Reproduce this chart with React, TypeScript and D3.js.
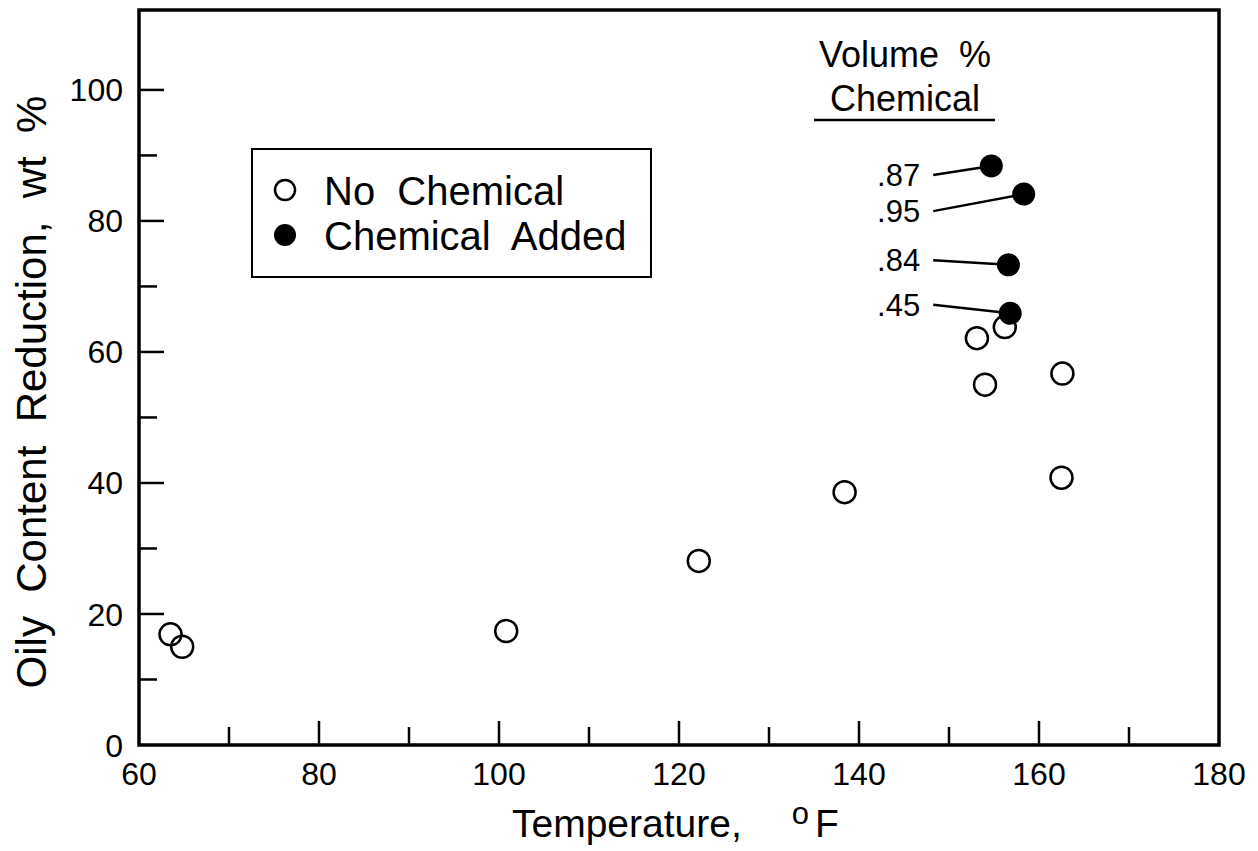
import React from 'react';
import * as d3 from 'd3';

// open circles
const noChemTemp = [63.5, 64.8, 100.8, 122.2, 138.4, 153.1, 156.2, 154.0, 162.6, 162.5];
const noChemOil = [16.9, 15.0, 17.4, 28.1, 38.6, 62.1, 63.8, 55.0, 56.7, 40.8];

// filled circles + their volume % labels
const chemTemp = [154.7, 158.3, 156.6, 156.8];
const chemOil = [88.4, 84.1, 73.3, 65.9];
const chemVolume = ['.87', '.95', '.84', '.45'];
const labelOil = [87.0, 81.5, 74.0, 67.2];
const labelTemp = 146.8;

const xMajor = [60, 80, 100, 120, 140, 160, 180];
const xMinor = [70, 90, 110, 130, 150, 170];
const yMajor = [0, 20, 40, 60, 80, 100];
const yMinor = [10, 30, 50, 70, 90];

const font = '"Liberation Sans", Arial, Helvetica, sans-serif';

const App = () => {
  const width = 1258;
  const height = 851;
  const left = 139, right = 1219, top = 10, bottom = 745;

  const x = d3.scaleLinear().domain([60, 180]).range([left, right]);
  const y = d3.scaleLinear().domain([0, 112.2]).range([bottom, top]);

  return (
    <svg width={width} height={height} style={{ position: 'absolute', left: 0, top: 0, background: '#fff' }}
      fontFamily={font}>
      <rect x={0} y={0} width={width} height={height} fill="#fff" />

      {/* ticks */}
      {xMajor.slice(1, -1).map(t => (
        <line key={'xM' + t} x1={x(t)} x2={x(t)} y1={bottom} y2={bottom - 24} stroke="#000" strokeWidth={2.5} />
      ))}
      {xMinor.map(t => (
        <line key={'xm' + t} x1={x(t)} x2={x(t)} y1={bottom} y2={bottom - 18} stroke="#000" strokeWidth={2.5} />
      ))}
      {yMajor.slice(1).map(t => (
        <line key={'yM' + t} x1={left} x2={left + 25} y1={y(t)} y2={y(t)} stroke="#000" strokeWidth={2.5} />
      ))}
      {yMinor.map(t => (
        <line key={'ym' + t} x1={left} x2={left + 18} y1={y(t)} y2={y(t)} stroke="#000" strokeWidth={2.5} />
      ))}

      {/* frame */}
      <rect x={left} y={top} width={right - left} height={bottom - top} fill="none" stroke="#000" strokeWidth={3.5} />

      {/* tick labels */}
      {xMajor.map(t => (
        <text key={'xl' + t} x={x(t)} y={bottom + 40} textAnchor="middle" fontSize={32}>{t}</text>
      ))}
      {yMajor.map(t => (
        <text key={'yl' + t} x={left - 16} y={y(t)} dy="0.36em" textAnchor="end" fontSize={32}>{t}</text>
      ))}

      {/* axis titles */}
      <text x={512} y={837} fontSize={39}>
        Temperature,
        <tspan dx={50} dy={-13} fontSize={31}>o</tspan>
        <tspan dx={6} dy={13}>F</tspan>
      </text>
      <text transform="translate(46,392) rotate(-90)" textAnchor="middle" fontSize={42} style={{ whiteSpace: 'pre' }}>
        {'Oily  Content  Reduction,  wt  %'}
      </text>

      {/* legend */}
      <rect x={252} y={149} width={399} height={128} fill="#fff" stroke="#000" strokeWidth={2} />
      <circle cx={285} cy={190} r={10} fill="#fff" stroke="#000" strokeWidth={2.5} />
      <circle cx={285} cy={235} r={11} fill="#000" />
      <text x={324} y={191} dy="0.36em" fontSize={40} style={{ whiteSpace: 'pre' }}>{'No  Chemical'}</text>
      <text x={324} y={236} dy="0.36em" fontSize={40} style={{ whiteSpace: 'pre' }}>{'Chemical  Added'}</text>

      {/* volume % header */}
      <text x={905} y={67} textAnchor="middle" fontSize={36} style={{ whiteSpace: 'pre' }}>{'Volume  %'}</text>
      <text x={905} y={111} textAnchor="middle" fontSize={36}>Chemical</text>
      <line x1={814} x2={995} y1={120} y2={120} stroke="#000" strokeWidth={2.5} />

      {/* no chemical */}
      {noChemTemp.map((t, i) => (
        <circle key={'o' + i} cx={x(t)} cy={y(noChemOil[i])} r={11} fill="none" stroke="#000" strokeWidth={2.5} />
      ))}

      {/* leaders */}
      {chemTemp.map((t, i) => (
        <line key={'ld' + i} x1={x(labelTemp) + 13} y1={y(labelOil[i])} x2={x(t)} y2={y(chemOil[i])}
          stroke="#000" strokeWidth={2.5} />
      ))}
      {chemVolume.map((v, i) => (
        <text key={'lb' + i} x={x(labelTemp)} y={y(labelOil[i])} dy="0.36em" textAnchor="end" fontSize={31}>{v}</text>
      ))}

      {/* chemical added */}
      {chemTemp.map((t, i) => (
        <circle key={'f' + i} cx={x(t)} cy={y(chemOil[i])} r={11.5} fill="#000" />
      ))}
    </svg>
  );
};

export default App;
